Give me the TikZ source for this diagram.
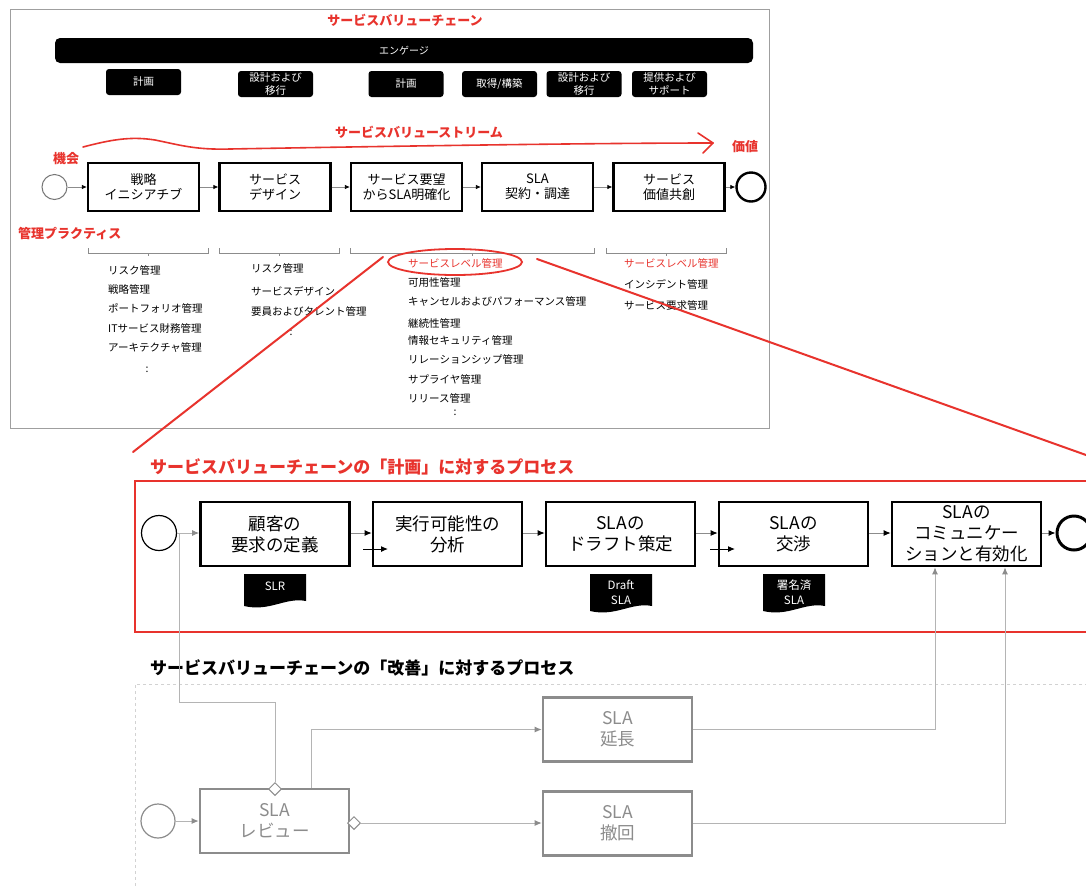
\documentclass[tikz,border=0pt]{standalone}
\usepackage{fontspec}
\setmainfont{Noto Sans CJK JP}
\usetikzlibrary{arrows.meta,shapes.geometric}
\definecolor{vred}{HTML}{E8332D}
\definecolor{lgray}{HTML}{B4B4B4}
\definecolor{mgray}{HTML}{8C8C8C}
\definecolor{dgray}{HTML}{777777}
\tikzset{
 rtitle/.style={text=vred, font=\bfseries\fontsize{13}{15}\selectfont, inner sep=0pt},
 blkbox/.style={fill=black, rounded corners=3pt, minimum width=75pt, minimum height=26pt, inner sep=0pt, text=white, align=center, font=\fontsize{10.5}{13}\selectfont},
 vsbox/.style={draw, line width=2.2pt, minimum width=111pt, minimum height=48pt, inner sep=0pt, align=center, font=\fontsize{13}{15}\selectfont},
 vsarr/.style={draw=mgray, line width=0.8pt, -{Latex[length=5pt,width=4.5pt,color=black]}},
 lst/.style={anchor=west, inner sep=0pt, font=\fontsize{10.5}{12}\selectfont},
 brk/.style={draw=mgray, line width=0.8pt},
 mbox/.style={draw, line width=2.6pt, minimum width=149pt, minimum height=64pt, inner sep=0pt, align=center, font=\fontsize{17.5}{21}\selectfont},
 marr/.style={draw=mgray, line width=1pt, -{Latex[length=7pt,width=6pt,color=black]}},
 stray/.style={draw=black, line width=1pt, -{Latex[length=7pt,width=6pt]}},
 gbox/.style={mbox, draw=mgray, text=mgray},
 garr/.style={draw=lgray, line width=1pt, -{Latex[length=7pt,width=6pt,color=mgray]}},
 gline/.style={draw=lgray, line width=1pt},
 dia/.style={diamond, draw=mgray, fill=white, line width=1pt, minimum size=13pt, inner sep=0pt},
 doctext/.style={text=white, align=center, font=\fontsize{11.5}{15}\selectfont, inner sep=0pt},
 redline/.style={draw=vred, line width=2pt, line cap=round},
}
\begin{document}
\begin{tikzpicture}[x=1pt,y=-1pt]
\clip (0,0) rectangle (1086,887);
\fill[white] (0,0) rectangle (1086,887);

% ===== top frame =====
\draw[draw=gray!75, line width=1pt] (10,9) rectangle (769,428);
\node[rtitle] (title) at (405,20) {サービスバリューチェーン};
\node[fill=black, rounded corners=5pt, minimum width=698pt, minimum height=25pt, inner sep=0pt, text=white, font=\fontsize{10}{12}\selectfont] (engage) at (404,50.5) {エンゲージ};
\node[blkbox] (b1) at (143.5,82) {計画};
\node[blkbox] (b2) at (275.5,84) {設計および\\移行};
\node[blkbox] (b3) at (406,84) {計画};
\node[blkbox] (b4) at (499.5,84) {取得/構築};
\node[blkbox] (b5) at (584,84) {設計および\\移行};
\node[blkbox] (b6) at (669.5,84) {提供および\\サポート};

% value stream
\coordinate (vs0) at (83,147);
\coordinate (vs1) at (713,143);
\draw[vred, line width=1.6pt, line cap=round] (vs0) .. controls (110,140) and (130,136) .. (155,140) .. controls (180,145) and (195,150) .. (230,149) .. controls (400,146) and (600,143) .. (vs1);
\draw[vred, line width=1.6pt, line cap=round, line join=round] (698,133) -- (vs1) -- (703,153);
\node[rtitle] (vstitle) at (419,132) {サービスバリューストリーム};
\node[rtitle] (kikai) at (66,159) {機会};
\node[rtitle] (kachi) at (745,147) {価値};

\node[circle, draw=dgray, line width=1pt, minimum size=25pt, inner sep=0pt] (c0) at (54.5,187) {};
\node[vsbox] (s1) at (143.5,187) {戦略\\イニシアチブ};
\node[vsbox] (s2) at (275,187) {サービス\\デザイン};
\node[vsbox] (s3) at (406.5,187) {サービス要望\\からSLA明確化};
\node[vsbox] (s4) at (537.5,187) {SLA\\契約・調達};
\node[vsbox] (s5) at (669,187) {サービス\\価値共創};
\node[circle, draw, line width=2.4pt, minimum size=29pt, inner sep=0pt] (c0e) at (751,187) {};
\draw[vsarr] (c0) -- (s1);
\draw[vsarr] (s1) -- (s2);
\draw[vsarr] (s2) -- (s3);
\draw[vsarr] (s3) -- (s4);
\draw[vsarr] (s4) -- (s5);
\draw[vsarr] (s5) -- (c0e);

\node[rtitle, anchor=west] (kanri) at (18,233) {管理プラクティス};

% brackets
\draw[brk] (88,248) -- (88,253) -- (208,253) -- (208,248) (148,253) -- (148,256);
\draw[brk] (219,248) -- (219,253) -- (339,253) -- (339,248) (279,253) -- (279,256);
\draw[brk] (350,248) -- (350,253) -- (594,253) -- (594,248) (472,253) -- (472,256);
\draw[brk] (606,248) -- (606,253) -- (726,253) -- (726,248) (666,253) -- (666,256);

% lists
\foreach \t/\y [count=\i] in {リスク管理/270, 戦略管理/289, ポートフォリオ管理/308, ITサービス財務管理/328, アーキテクチャ管理/348}
  \node[lst] (la\i) at (108,\y) {\t};
\node[lst, anchor=center] (la6) at (147,370) {:};
\foreach \t/\y [count=\i] in {リスク管理/268, サービスデザイン/291, 要員およびタレント管理/311}
  \node[lst] (lb\i) at (251,\y) {\t};
\node[lst, anchor=center] (lb4) at (291,333) {:};
\node[lst, text=vred] (lc0) at (408,263) {サービスレベル管理};
\foreach \t/\y [count=\i] in {可用性管理/283, キャンセルおよびパフォーマンス管理/302, 継続性管理/323, 情報セキュリティ管理/340, リレーションシップ管理/359, サプライヤ管理/379, リリース管理/398}
  \node[lst] (lc\i) at (408,\y) {\t};
\node[lst, anchor=center] (lc8) at (455,413) {:};
\node[lst, text=vred] (ld0) at (624,263) {サービスレベル管理};
\node[lst] (ld1) at (624,284) {インシデント管理};
\node[lst] (ld2) at (624,305) {サービス要求管理};

% ===== middle: plan process =====
\node[anchor=west, inner sep=0pt, text=vred, font=\bfseries\fontsize{17}{20}\selectfont] (ptitle) at (150,467) {サービスバリューチェーンの「計画」に対するプロセス};
\draw[vred, line width=1.2pt] (1100,481) -- (135,481) -- (135,632) -- (1100,632);

\node[circle, draw, line width=1.2pt, minimum size=35pt, inner sep=0pt] (c1) at (159,533) {};
\node[mbox] (mA) at (275,534) {顧客の\\要求の定義};
\node[mbox] (mB) at (447.5,534) {実行可能性の\\分析};
\node[mbox] (mC) at (620.5,534) {SLAの\\ドラフト策定};
\node[mbox] (mD) at (793.5,534) {SLAの\\交渉};
\node[mbox] (mE) at (966.5,534) {SLAの\\コミュニケー\\ションと有効化};
\node[circle, draw, line width=3pt, minimum size=34pt, inner sep=0pt] (c1e) at (1074,533) {};
\draw[garr] (c1) -- (mA.west |- c1);
\draw[marr] (mA.east |- c1) -- (mB.west |- c1);
\draw[marr] (mB.east |- c1) -- (mC.west |- c1);
\draw[marr] (mC.east |- c1) -- (mD.west |- c1);
\draw[marr] (mD.east |- c1) -- (mE.west |- c1);
\draw[marr] (mE.east |- c1) -- (c1e);
\coordinate (sa) at (363,549);
\coordinate (sb) at (710,549);
\draw[stray] (sa) -- ++(25,0);
\draw[stray] (sb) -- ++(25,0);

% documents
\fill (244,574) -- (306,574) -- (306,601) .. controls (285,597) and (270,612) .. (244,606) -- cycle;
\node[doctext] (dSLR) at (275,586) {SLR};
\fill (590,574) -- (652,574) -- (652,606) .. controls (631,602) and (616,617) .. (590,611) -- cycle;
\node[doctext] (dDraft) at (621,592) {Draft\\SLA};
\fill (763,574) -- (825,574) -- (825,606) .. controls (804,602) and (789,617) .. (763,611) -- cycle;
\node[doctext] (dSigned) at (794,592) {署名済\\SLA};

% ===== bottom: improve process =====
\node[anchor=west, inner sep=0pt, font=\bfseries\fontsize{17}{20}\selectfont] (ititle) at (150,668) {サービスバリューチェーンの「改善」に対するプロセス};
\draw[draw=gray!35, dashed, line width=0.8pt] (1100,684) -- (135,684) -- (135,890);

\node[circle, draw=mgray, line width=1.2pt, minimum size=34pt, inner sep=0pt] (c2) at (158,821) {};
\node[gbox] (rv) at (274.5,821) {SLA\\レビュー};
\node[gbox] (ext) at (617.5,729.5) {SLA\\延長};
\node[gbox] (wd) at (617.5,823.5) {SLA\\撤回};
\node[dia] (d1) at (275,789) {};
\node[dia] (d2) at (354,823) {};
\coordinate (j1) at (179,533);
\draw[garr] (c2) -- (rv);
\draw[gline] (d1.north) -- (275,702) -- (179,702) -- (j1);
\draw[garr] ([xshift=36.5pt]rv.north) |- (ext.west);
\draw[garr] (d2.east) -- (d2.east -| wd.west);
\draw[garr] (ext.east) -| ([xshift=-31.5pt]mE.south);
\draw[garr] (wd.east |- d2) -| ([xshift=38.5pt]mE.south);

% ===== red zoom lines =====
\draw[vred, line width=1.8pt] (455,262) ellipse [x radius=67pt, y radius=13pt];
\coordinate (rl1) at (383,257);
\coordinate (rl2) at (133,452);
\coordinate (rr1) at (537,259);
\coordinate (rr2) at (1100,460);
\draw[redline] (rl1) -- (rl2);
\draw[redline] (rr1) -- (rr2);
\end{tikzpicture}
\end{document}
